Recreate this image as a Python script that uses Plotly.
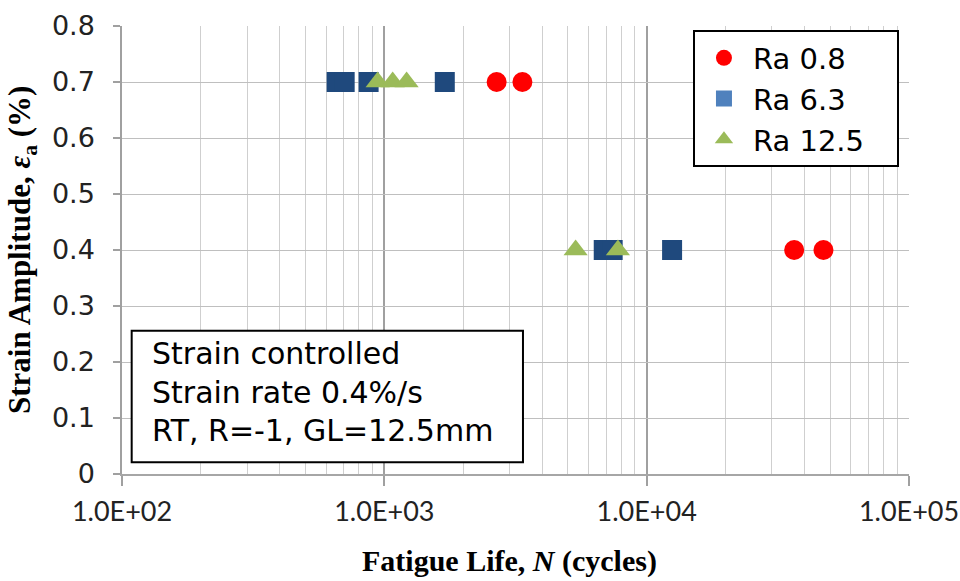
import plotly.graph_objects as go

# Fatigue life (cycles) and strain amplitude (%) for each surface roughness
ra08_life = [2680, 3360, 36500, 47200]
ra08_strain = [0.7, 0.7, 0.4, 0.4]

ra63_life = [658, 706, 871, 1700, 6860, 7420, 12500]
ra63_strain = [0.7, 0.7, 0.7, 0.7, 0.4, 0.4, 0.4]

ra125_life = [943, 1076, 1216, 5360, 7770]
ra125_strain = [0.7, 0.7, 0.7, 0.4, 0.4]

series_names = ["Ra 0.8", "Ra 6.3", "Ra 12.5"]

x_tickvals = [1e2, 1e3, 1e4, 1e5]
x_ticktext = ["1.0E+02", "1.0E+03", "1.0E+04", "1.0E+05"]

info_lines = ["Strain controlled", "Strain rate 0.4%/s", "RT, R=-1, GL=12.5mm"]

RED = "#FF0000"
NAVY = "#1F497D"
BLUE = "#4F81BD"
GREEN = "#9BBB59"

fig = go.Figure()

# data markers
fig.add_trace(go.Scatter(x=ra08_life, y=ra08_strain, mode="markers", showlegend=False,
                         marker=dict(symbol="circle", size=20, color=RED)))
fig.add_trace(go.Scatter(x=ra63_life, y=ra63_strain, mode="markers", showlegend=False,
                         marker=dict(symbol="square", size=20, color=NAVY)))
fig.add_trace(go.Scatter(x=ra125_life, y=ra125_strain, mode="markers", showlegend=False,
                         marker=dict(symbol="triangle-up", size=21, color=GREEN)))

# legend entries; trailing no-break spaces pad the legend box on the right
legend_styles = [("circle", RED, 20), ("square", BLUE, 17), ("triangle-up", GREEN, 21)]
for name, (sym, col, sz) in zip(series_names, legend_styles):
    fig.add_trace(go.Scatter(x=[None], y=[None], mode="markers",
                             name=name + "\u00a0\u00a0\u00a0",
                             marker=dict(symbol=sym, size=sz, color=col)))

fig.update_layout(
    width=960, height=581,
    margin=dict(l=122, r=51, t=26, b=107, autoexpand=False),
    paper_bgcolor="white", plot_bgcolor="white",
    font=dict(family="DejaVu Sans", color="black"),
    legend=dict(x=0.7255, y=0.99, xanchor="left", yanchor="top",
                bgcolor="white", bordercolor="black", borderwidth=2,
                font=dict(family="DejaVu Sans", size=29, color="black"),
                itemsizing="trace", itemwidth=48),
    xaxis=dict(type="log", range=[2, 5], automargin=False,
               tickvals=x_tickvals, ticktext=x_ticktext,
               tickfont=dict(family="Lato", size=27, color="#222"),
               ticks="outside", ticklen=10, tickcolor="#A0A0A0", tickwidth=1.5,
               ticklabelstandoff=3,
               showgrid=True, gridcolor="#A0A0A0", gridwidth=1.5,
               showline=True, linecolor="#A6A6A6", linewidth=1.5,
               minor=dict(dtick="D1", showgrid=True, gridcolor="#CFCFCF", gridwidth=1, ticks=""),
               zeroline=False),
    yaxis=dict(range=[0, 0.8], dtick=0.1, automargin=False,
               tickfont=dict(family="DejaVu Sans", size=27, color="#222"),
               ticks="outside", ticklen=7, tickcolor="#A0A0A0", tickwidth=1.5,
               ticklabelstandoff=13,
               showgrid=True, gridcolor="#BFBFBF", gridwidth=1,
               showline=True, linecolor="#A0A0A0", linewidth=1.5,
               zeroline=False),
)

# axis titles
fig.add_annotation(text="<b>Fatigue Life, <i>N</i> (cycles)</b>", xref="paper", yref="paper",
                   x=0.493, y=-0.2375, xanchor="center", yanchor="bottom", showarrow=False,
                   font=dict(family="Liberation Serif", size=30, color="black"))
fig.add_annotation(text="<b>Strain Amplitude, <i>ε</i><sub>a</sub> (%)</b>", xref="paper", yref="paper",
                   x=-0.127, y=0.5, xanchor="center", yanchor="middle", showarrow=False,
                   textangle=-90,
                   font=dict(family="Liberation Serif", size=31, color="black"))

# test condition box
fig.add_shape(type="rect", xref="paper", yref="paper",
              x0=0.0123, x1=0.5095, y0=0.0261, y1=0.3199,
              line=dict(color="black", width=2), fillcolor="white", layer="above")
for line_text, yy in zip(info_lines, [0.268, 0.183, 0.096]):
    fig.add_annotation(text=line_text, xref="paper", yref="paper",
                       x=0.0356, y=yy, xanchor="left", yanchor="middle", showarrow=False,
                       font=dict(family="DejaVu Sans", size=30, color="black"))

fig.write_html("out.html")
